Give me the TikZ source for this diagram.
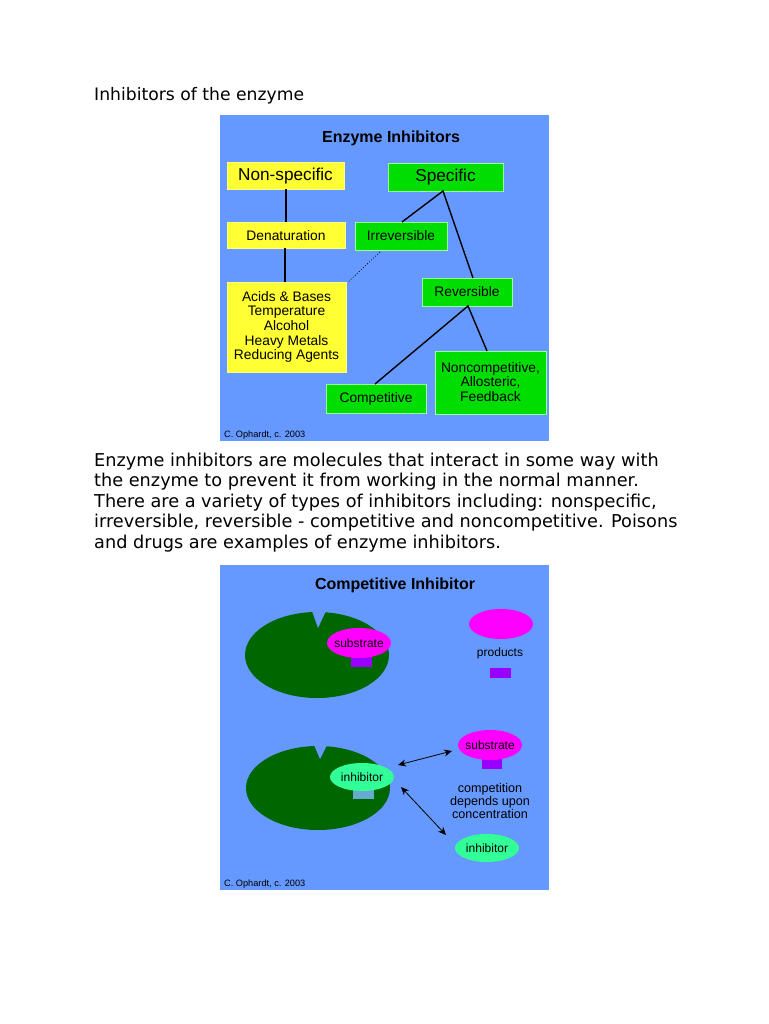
\documentclass[tikz,border=0pt]{standalone}
\usepackage{fontspec}
\setmainfont{DejaVu Sans}
\newfontfamily\pan{Liberation Sans}
\usetikzlibrary{arrows.meta}
\definecolor{bg}{HTML}{6699FF}
\definecolor{yel}{HTML}{FFFF33}
\definecolor{grn}{HTML}{00DD00}
\definecolor{dgrn}{HTML}{006600}
\definecolor{mag}{HTML}{FF00FF}
\definecolor{pur}{HTML}{9900FF}
\definecolor{aqua}{HTML}{33FF99}
\definecolor{tealb}{HTML}{66AACC}
\begin{document}
\begin{tikzpicture}[x=1pt,y=-1pt,
  ybox/.style={fill=yel,draw=yel!60!white,line width=0.8pt},
  gbox/.style={fill=grn,draw=green!40!white,line width=0.8pt},
  lab/.style={font=\pan\fontsize{13.8}{15}\selectfont,align=center,inner sep=0pt},
  slab/.style={font=\pan\fontsize{12}{13}\selectfont,align=center,inner sep=0pt},
  link/.style={line width=1.4pt,black},
  ptext/.style={anchor=west,inner sep=0pt,font=\fontsize{17.7}{20}\selectfont},
  dbl/.style={{Stealth[length=8pt,width=7pt]}-{Stealth[length=8pt,width=7pt]},line width=0.8pt}]
\useasboundingbox (0,0) rectangle (768,1024);
\fill[white] (0,0) rectangle (768,1024);
\node[ptext,font=\fontsize{17.2}{18}\selectfont] (h) at (94,96) {Inhibitors of the enzyme};
% top panel
\fill[bg] (220,115) rectangle (549,441);
\node[lab,font=\pan\bfseries\fontsize{16}{18}\selectfont] (t1) at (391,138) {Enzyme Inhibitors};
\draw[ybox] (227,162) rectangle (344,189);
\node[lab,font=\pan\fontsize{17.2}{18}\selectfont] (ns) at (285.5,176) {Non-specific};
\draw[gbox] (388,163) rectangle (503,191);
\node[lab,font=\pan\fontsize{17.2}{18}\selectfont] (sp) at (445.5,177.5) {Specific};
\draw[ybox] (227,222) rectangle (345,248);
\node[lab] (den) at (286,236) {Denaturation};
\draw[gbox] (355,222) rectangle (447,250);
\node[lab] (irr) at (401,236) {Irreversible};
\draw[ybox] (227,282) rectangle (346,372);
\node[lab,font=\pan\fontsize{13.8}{14.6}\selectfont] (ac) at (286.5,327) {Acids \& Bases\\Temperature\\Alcohol\\Heavy Metals\\Reducing Agents};
\draw[gbox] (422,278) rectangle (512,306);
\node[lab] (rev) at (467,292) {Reversible};
\draw[gbox] (326,384) rectangle (426,413);
\node[lab] (comp) at (376,399) {Competitive};
\draw[gbox] (435,351) rectangle (546,414);
\node[lab,font=\pan\fontsize{13.8}{14.6}\selectfont] (nc) at (490.5,382) {Noncompetitive,\\Allosteric,\\Feedback};
\coordinate (a1) at (286,189); \coordinate (a2) at (286,222);
\coordinate (b1) at (285,248); \coordinate (b2) at (285,282);
\coordinate (s0) at (443,191); \coordinate (s1) at (402,222); \coordinate (s2) at (473,278);
\coordinate (r0) at (468,306); \coordinate (r1) at (375,384); \coordinate (r2) at (487,351);
\coordinate (d1) at (380,252); \coordinate (d2) at (348,282);
\draw[link] (a1)--(a2); \draw[link] (b1)--(b2);
\draw[link] (s1)--(s0)--(s2); \draw[link] (r1)--(r0)--(r2);
\draw[black,dotted,line width=0.8pt] (d1)--(d2);
\node[lab,font=\pan\fontsize{9.2}{10}\selectfont,anchor=west] (c1) at (224,435) {C. Ophardt, c. 2003};
% paragraph
\node[ptext] (p1) at (94,462) {Enzyme inhibitors are molecules that interact in some way with};
\node[ptext] (p2) at (94,482) {the enzyme to prevent it from working in the normal manner.};
\node[ptext] (p3) at (94,502.5) {There are a variety of types of inhibitors including: nonspecific,};
\node[ptext] (p4) at (94,523) {irreversible, reversible - competitive and noncompetitive. Poisons};
\node[ptext] (p5) at (94,544) {and drugs are examples of enzyme inhibitors.};
% bottom panel
\fill[bg] (220,565) rectangle (549,890);
\node[lab,font=\pan\bfseries\fontsize{16}{18}\selectfont] (t2) at (395,585) {Competitive Inhibitor};
\fill[dgrn] (317,655) ellipse [x radius=72,y radius=43];
\fill[bg] (312,611) -- (318,628) -- (326,611) -- cycle;
\fill[pur] (351,656) rectangle (372,667);
\fill[mag] (359,643) ellipse [x radius=32,y radius=15];
\node[slab] (sub1) at (359,643) {substrate};
\fill[mag] (501,624) ellipse [x radius=32,y radius=15];
\node[slab] (prod) at (500,653) {products};
\fill[pur] (490,668) rectangle (511,678);
\fill[dgrn] (318,788) ellipse [x radius=72,y radius=42];
\fill[bg] (314,745) -- (320,759) -- (327,745) -- cycle;
\fill[tealb] (353,790) rectangle (374,799);
\fill[aqua] (362,777) ellipse [x radius=32,y radius=14];
\node[slab] (inh1) at (362,777) {inhibitor};
\fill[pur] (482,757) rectangle (502,769);
\fill[mag] (490,745) ellipse [x radius=32,y radius=15];
\node[slab] (sub2) at (490,745) {substrate};
\node[slab,font=\pan\fontsize{12.6}{13}\selectfont] (cm) at (490,801) {competition\\depends upon\\concentration};
\fill[aqua] (487,848) ellipse [x radius=32,y radius=14];
\node[slab] (inh2) at (487,848) {inhibitor};
\coordinate (e1) at (398,765); \coordinate (e2) at (452,751);
\coordinate (f1) at (401,787); \coordinate (f2) at (446,835);
\draw[dbl] (e1)--(e2); \draw[dbl] (f1)--(f2);
\node[lab,font=\pan\fontsize{9.2}{10}\selectfont,anchor=west] (c2) at (224,884) {C. Ophardt, c. 2003};
\end{tikzpicture}
\end{document}
